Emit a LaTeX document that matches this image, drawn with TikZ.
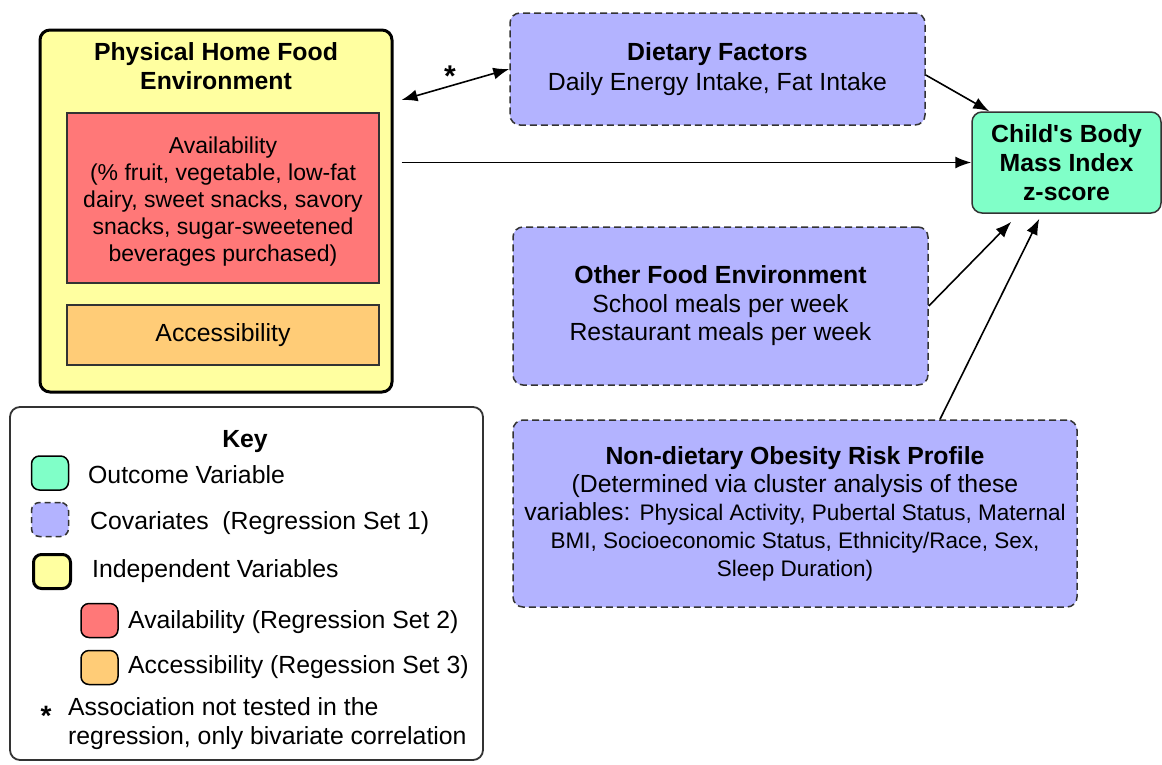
\documentclass[tikz,border=0pt]{standalone}
\usepackage{fontspec}
\setmainfont{Liberation Sans}
\usetikzlibrary{arrows.meta}
\definecolor{yel}{HTML}{FFFFA0}
\definecolor{redf}{HTML}{FF7878}
\definecolor{orgf}{HTML}{FFCC77}
\definecolor{lav}{HTML}{B3B3FF}
\definecolor{grn}{HTML}{80FFC8}
\definecolor{edge}{HTML}{333333}
\newcommand{\smallvar}{\fontsize{22.5}{28}\selectfont}
\begin{document}
\begin{tikzpicture}[x=1pt,y=-1pt,
  txt/.style={font=\fontsize{24.8}{28}\selectfont, align=center, text=black},
  indep/.style={draw=black, line width=3pt, fill=yel, rounded corners=10pt, inner sep=0pt},
  sub/.style={draw=edge, line width=1.2pt, inner sep=0pt, txt},
  cov/.style={draw=edge, line width=1.5pt, dash pattern=on 7pt off 4pt, fill=lav, rounded corners=10pt, inner sep=0pt, txt},
  outc/.style={draw=edge, line width=1.5pt, fill=grn, rounded corners=10pt, inner sep=0pt, txt},
  conn/.style={line width=1.6pt, -{Latex[length=16pt,width=12pt]}},
  swatch/.style={rounded corners=8pt, inner sep=0pt, minimum width=37pt, minimum height=34pt},
  keytxt/.style={font=\fontsize{24.8}{28}\selectfont, anchor=west, inner sep=0pt}]
\useasboundingbox (0,0) rectangle (1162,764);

% Physical home food environment
\node[indep, minimum width=352pt, minimum height=362pt] (phys) at (216,211) {};
\node[txt, font=\fontsize{24.8}{29}\selectfont\bfseries] (phystitle) at (216,66) {Physical Home Food\\Environment};
\node[sub, fill=redf, minimum width=312pt, minimum height=170pt] (avail) at (223,198) {};
\node[txt, font=\fontsize{23}{27}\selectfont] (availtxt) at (223,202)
  {Availability\\(\% fruit, vegetable, low-fat\\dairy, sweet snacks, savory\\snacks, sugar-sweetened\\beverages purchased)};
\node[sub, fill=orgf, minimum width=312pt, minimum height=60pt] (access) at (223,335) {Accessibility};

% Dietary factors
\node[cov, minimum width=415pt, minimum height=112pt, font=\fontsize{24.8}{30}\selectfont] (diet) at (717.5,69)
  {\textbf{Dietary Factors}\\Daily Energy Intake, Fat Intake};

% Outcome
\node[outc, minimum width=189pt, minimum height=101pt, font=\fontsize{24.8}{29}\selectfont\bfseries] (bmi) at (1066.5,162.5)
  {Child\textquotesingle s Body\\Mass Index\\z-score};

% Other food environment
\node[cov, minimum width=415pt, minimum height=158pt, font=\fontsize{24.8}{28.5}\selectfont] (other) at (720.5,306)
  {\textbf{Other Food Environment}\\School meals per week\\Restaurant meals per week};

% Non-dietary
\node[cov, minimum width=564pt, minimum height=187pt] (nondiet) at (795,513.5)
  {\textbf{Non-dietary Obesity Risk Profile}\\(Determined via cluster analysis of these\\variables: {\smallvar Physical Activity, Pubertal Status, Maternal}\\{\smallvar BMI, Socioeconomic Status, Ethnicity/Race, Sex,}\\{\smallvar Sleep Duration)}};

% Connectors
\draw[line width=1.6pt, {Latex[length=16pt,width=12pt]}-{Latex[length=16pt,width=12pt]}]
  ([xshift=8pt,yshift=111pt]phys.east) -- (diet.west);
\node[font=\fontsize{30}{30}\selectfont\bfseries, inner sep=0pt] (star) at (450,76) {*};
\draw[conn] ([xshift=8pt]phys.east |- bmi.west) -- (bmi.west);
\draw[conn] ([yshift=-6pt]diet.east) -- ([xshift=18pt]bmi.north west);
\draw[conn] (other.east) -- ([xshift=40pt,yshift=-8pt]bmi.south west);
\draw[conn] ([xshift=145pt]nondiet.north) -- ([xshift=68pt,yshift=-5pt]bmi.south west);

% Key
\node[draw=edge, line width=1.8pt, rounded corners=10pt, minimum width=473pt, minimum height=353pt, inner sep=0pt] (key) at (246.5,583.5) {};
\node[font=\fontsize{24.8}{28}\selectfont\bfseries, inner sep=0pt] (keytitle) at (245,442) {Key};
\node[swatch, draw=black, line width=1.5pt, fill=grn] (k1) at (50,473) {};
\node[keytxt] (k1t) at (88,475) {Outcome Variable};
\node[swatch, draw=edge, line width=1.5pt, dash pattern=on 6pt off 4pt, fill=lav] (k2) at (50,519.5) {};
\node[keytxt] (k2t) at (90,523) {Covariates~ (Regression Set 1)};
\node[swatch, draw=black, line width=3pt, fill=yel] (k3) at (52,571.5) {};
\node[keytxt] (k3t) at (92,571) {Independent Variables};
\node[swatch, draw=black, line width=1.5pt, fill=redf] (k4) at (99.5,620.5) {};
\node[keytxt] (k4t) at (128,622) {Availability (Regression Set 2)};
\node[swatch, draw=black, line width=1.5pt, fill=orgf] (k5) at (99.5,667.5) {};
\node[keytxt] (k5t) at (128,667) {Accessibility (Regession Set 3)};
\node[font=\fontsize{28}{28}\selectfont\bfseries, inner sep=0pt] (kstar) at (46,716) {*};
\node[font=\fontsize{24.8}{29}\selectfont, align=left, anchor=north west, inner sep=0pt] (k6t) at (68,697)
  {Association not tested in the\\regression, only bivariate correlation};
\end{tikzpicture}
\end{document}
